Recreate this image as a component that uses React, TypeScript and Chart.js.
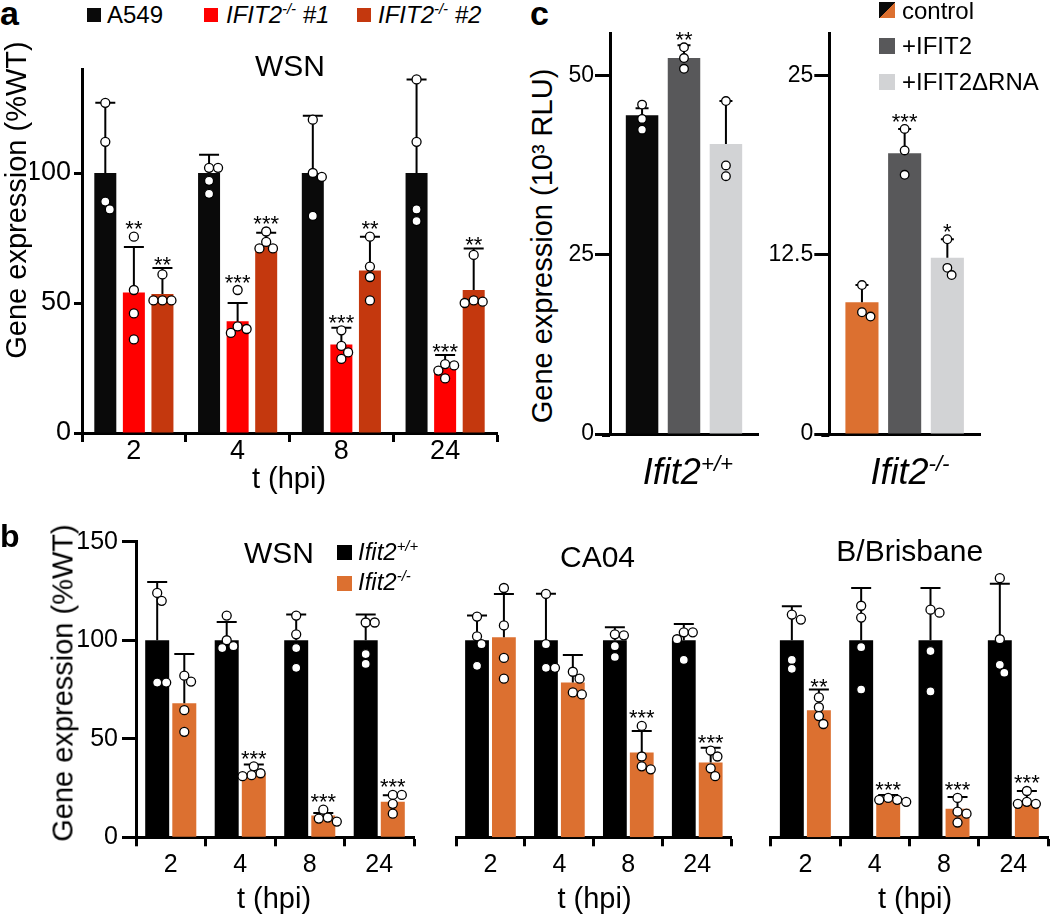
import React, { useEffect, useRef } from 'react';
import { Chart, registerables } from 'chart.js';
Chart.register(...registerables);

const FONT = '"Liberation Sans", Arial, Helvetica, sans-serif';

// ---------------- Panel a data ----------------
const A_CATS = ['2', '4', '8', '24'];
const A_SERIES = ['A549', 'IFIT2-/- #1', 'IFIT2-/- #2'];
const A_WT_MEAN = [100, 100, 100, 100];
const A_WT_SD = [27, 7, 22, 36];
const A_WT_PTS = [[127, 112, 86, 89], [102, 102, 97, 92], [120.5, 100, 98.5, 83.5], [136, 112, 86, 81.5]];
const A_KO1_MEAN = [54, 43, 34, 25];
const A_KO1_SD = [17.5, 7, 6.5, 5];
const A_KO1_PTS = [[75.5, 55, 46, 36], [55, 41, 38.5, 40], [39.5, 33.5, 31, 28.5], [26.5, 26, 24, 21]];
const A_KO1_STARS = ['**', '***', '***', '***'];
const A_KO2_MEAN = [53.5, 72, 62.5, 55];
const A_KO2_SD = [10, 5, 13, 16];
const A_KO2_PTS = [[61, 51, 51, 51], [77.5, 73.5, 71, 71], [75.5, 64, 60, 51], [68.5, 50.5, 51, 50]];
const A_KO2_STARS = ['**', '***', '**', '**'];
const A_Y_TICKS = [0, 50, 100];
const A_Y_MAX = 140;

// ---------------- Panel b data ----------------
const B_CATS = ['2', '4', '8', '24'];
const B_GENOTYPES = ['Ifit2+/+', 'Ifit2-/-'];
const B_Y_TICKS = [0, 50, 100, 150];
const B_Y_MAX = 150;
const B_WT_MEAN = [100, 100, 100, 100];

const B_WSN_WT_SD = [29.6, 9.2, 13, 13];
const B_WSN_WT_PTS = [[124, 120, 78.5, 78.5], [112.5, 100, 97, 96], [112.5, 103, 96, 86], [109, 109, 93, 88]];
const B_WSN_KO_MEAN = [68, 32.5, 11, 18];
const B_WSN_KO_SD = [25, 4.5, 1.3, 3.4];
const B_WSN_KO_PTS = [[82, 79, 64.5, 53.5], [36, 31, 32.5, 31.5], [14, 8, 10, 9.5], [21.5, 21.5, 17, 12]];
const B_WSN_KO_STARS = [null, '***', '***', '***'];

const B_CA04_WT_SD = [12.5, 23.6, 6.6, 8.3];
const B_CA04_WT_PTS = [[112, 102, 98, 87], [123.5, 98, 86, 86], [102.5, 103, 97, 91.5], [104, 104, 100.5, 90]];
const B_CA04_KO_MEAN = [101.5, 78.5, 43, 38];
const B_CA04_KO_SD = [22, 14, 11, 7.5];
const B_CA04_KO_PTS = [[126.5, 107.5, 91, 80.5], [84, 80.5, 72.5, 73.5], [56.5, 41, 36, 34.5], [44, 41, 35, 31]];
const B_CA04_KO_STARS = [null, null, '***', '***'];

const B_BRIS_WT_SD = [17.3, 26.5, 26.5, 28.7];
const B_BRIS_WT_PTS = [[110.5, 113, 90, 85.5], [117.5, 111.5, 96.5, 75], [114, 115.5, 94.5, 74], [131.5, 100.5, 83.5, 87.5]];
const B_BRIS_KO_MEAN = [64.5, 20, 14.5, 18];
const B_BRIS_KO_SD = [10.5, 1.5, 6, 5.5];
const B_BRIS_KO_PTS = [[71, 66, 61.5, 57.5], [20, 19, 19, 18], [20, 13, 12, 7.5], [23.5, 17, 18, 17]];
const B_BRIS_KO_STARS = ['**', '***', '***', '***'];

// ---------------- Panel c data ----------------
const C_GROUPS = ['Ifit2+/+', 'Ifit2-/-'];
const C_CONDITIONS = ['control', '+IFIT2', '+IFIT2\u0394RNA'];
const C_WT_MEAN = [44.5, 52.5, 40.5];
const C_WT_SD = [1, 1.8, 6];
const C_WT_PTS = [[46, 44, 42.5], [54, 52.5, 51], [46.5, 37.5, 36]];
const C_WT_STARS = [null, '**', null];
const C_WT_TICKS = [0, 25, 50];
const C_WT_MAX = 56;
const C_KO_MEAN = [9.2, 19.6, 12.3];
const C_KO_SD = [1.2, 1.7, 1.3];
const C_KO_PTS = [[10.4, 8.5, 8.2], [21.3, 19.8, 18.1], [13.6, 11.6, 11.1]];
const C_KO_STARS = [null, '***', '*'];
const C_KO_TICKS = [0, 12.5, 25];
const C_KO_MAX = 28;

// ---------------- colours ----------------
const BLACK = '#0a0a0a';
const RED = '#ff0000';
const DARK_ORANGE = '#c4380e';
const ORANGE = '#dc7030';
const DARK_GREY = '#58585a';
const LIGHT_GREY = '#d2d3d5';

type Series = { label: string; data: number[]; sd: number[]; pts: number[][]; stars: (string | null)[]; color: string };
type Spec = {
  labels: string[]; series: Series[]; yMax: number; yTicks: number[]; showY: boolean;
  yWidth: number; xHeight: number; padTop: number; padRight: number; padLeft: number;
  tickSize: number; xTickPad: number; showXTicks: boolean; catPct: number; barPct: number;
  r: number; capW: number; starSize: number; yTickLen: number; yTickPad: number; xExtend: number;
};

function makeOverlay(spec: Spec) {
  return {
    id: 'errAndPoints',
    afterDatasetsDraw(chart: any) {
      const ctx = chart.ctx as CanvasRenderingContext2D;
      const ys = chart.scales.y;
      ctx.save();
      spec.series.forEach((s, di) => {
        const meta = chart.getDatasetMeta(di);
        meta.data.forEach((el: any, j: number) => {
          const x = el.x;
          const yBar = ys.getPixelForValue(s.data[j]);
          const yErr = ys.getPixelForValue(s.data[j] + s.sd[j]);
          ctx.strokeStyle = '#000';
          ctx.lineWidth = 2;
          ctx.beginPath();
          ctx.moveTo(x, yBar);
          ctx.lineTo(x, yErr);
          ctx.moveTo(x - spec.capW / 2, yErr);
          ctx.lineTo(x + spec.capW / 2, yErr);
          ctx.stroke();
          const r = spec.r;
          const pys = s.pts[j].map((v) => ys.getPixelForValue(v)).sort((a: number, b: number) => a - b);
          const placed: { x: number; y: number }[] = [];
          pys.forEach((py: number) => {
            let off = 0;
            for (let k = 0; k < 80; k++) {
              const cand = k === 0 ? 0 : (k % 2 ? 1 : -1) * Math.ceil(k / 2) * r * 0.5;
              if (placed.every((p) => (p.x - cand) ** 2 + (p.y - py) ** 2 >= (1.9 * r) ** 2)) {
                off = cand;
                break;
              }
            }
            placed.push({ x: off, y: py });
          });
          ctx.lineWidth = 1.3;
          placed.forEach((p) => {
            ctx.beginPath();
            ctx.arc(x + p.x, p.y, r, 0, Math.PI * 2);
            ctx.fillStyle = '#fff';
            ctx.fill();
            ctx.stroke();
          });
          const star = s.stars[j];
          if (star) {
            const top = Math.min(yErr, ...placed.map((p) => p.y - r));
            ctx.fillStyle = '#000';
            ctx.font = `${spec.starSize}px ${FONT}`;
            ctx.textAlign = 'center';
            ctx.textBaseline = 'alphabetic';
            ctx.fillText(star, x, top + 4);
          }
        });
      });
      if (spec.xExtend > 0) {
        const area = chart.chartArea;
        ctx.strokeStyle = '#000';
        ctx.lineWidth = 3;
        ctx.beginPath();
        ctx.moveTo(area.left - spec.xExtend, area.bottom + 1.5);
        ctx.lineTo(area.left, area.bottom + 1.5);
        ctx.stroke();
      }
      ctx.restore();
    },
  };
}

function makeConfig(spec: Spec): any {
  return {
    type: 'bar',
    data: {
      labels: spec.labels,
      datasets: spec.series.map((s) => ({
        label: s.label,
        data: s.data,
        backgroundColor: s.color,
        borderWidth: 0,
        categoryPercentage: spec.catPct,
        barPercentage: spec.barPct,
      })),
    },
    options: {
      responsive: false,
      animation: false,
      devicePixelRatio: 1,
      layout: { padding: { top: spec.padTop, right: spec.padRight, left: spec.padLeft, bottom: 0 } },
      plugins: { legend: { display: false }, tooltip: { enabled: false }, title: { display: false } },
      scales: {
        x: {
          type: 'category',
          offset: true,
          grid: {
            display: true, drawOnChartArea: false, drawTicks: spec.showXTicks, tickLength: 9,
            tickWidth: 3, tickColor: '#000', color: '#000', offset: true,
          },
          border: { display: true, color: '#000', width: 3 },
          ticks: {
            display: spec.showXTicks, color: '#000', font: { family: FONT, size: spec.tickSize, lineHeight: 1 },
            padding: spec.xTickPad, maxRotation: 0, autoSkip: false,
          },
          afterFit: (s: any) => { s.height = spec.xHeight; },
        },
        y: {
          display: spec.showY,
          min: 0,
          max: spec.yMax,
          afterBuildTicks: (s: any) => { s.ticks = spec.yTicks.map((v) => ({ value: v })); },
          grid: {
            drawOnChartArea: false, drawTicks: true, tickLength: spec.yTickLen, tickWidth: 3,
            tickColor: '#000', color: '#000',
          },
          border: { display: true, color: '#000', width: 3 },
          ticks: { color: '#000', font: { family: FONT, size: spec.tickSize, lineHeight: 1 }, padding: spec.yTickPad },
          afterFit: (s: any) => { s.width = spec.yWidth; },
        },
      },
    },
    plugins: [makeOverlay(spec)],
  };
}

function ChartBox({ left, top, width, height, spec }: { left: number; top: number; width: number; height: number; spec: Spec }) {
  const ref = useRef<HTMLCanvasElement>(null);
  useEffect(() => {
    const chart = new Chart(ref.current as HTMLCanvasElement, makeConfig(spec));
    return () => chart.destroy();
  }, []);
  return (
    <canvas ref={ref} width={width} height={height}
      style={{ position: 'absolute', left, top, width, height }} />
  );
}

function T({ x, y, size, children, anchor = 'middle', italic = false, bold = false, rotate = false }:
  { x: number; y: number; size: number; children: any; anchor?: string; italic?: boolean; bold?: boolean; rotate?: boolean }) {
  const tx = anchor === 'start' ? '0' : '-50%';
  return (
    <div style={{
      position: 'absolute', left: x, top: y, whiteSpace: 'nowrap', lineHeight: 1,
      fontFamily: FONT, fontSize: size, fontStyle: italic ? 'italic' : 'normal', fontWeight: bold ? 700 : 400,
      color: '#000', transform: `translate(${tx},-50%)${rotate ? ' rotate(-90deg)' : ''}`,
    }}>{children}</div>
  );
}

function Sup({ children }: { children: any }) {
  return <span style={{ fontSize: '0.62em', position: 'relative', top: '-0.6em' }}>{children}</span>;
}

function Gene({ name }: { name: string }) {
  // splits "Ifit2+/+" into base and superscript genotype
  const m = name.match(/^([A-Za-z]+\d)([+\-/]+)(.*)$/);
  if (!m) return <>{name}</>;
  return <>{m[1]}<Sup>{m[2]}</Sup>{m[3]}</>;
}

function Swatch({ x, y, s, bg }: { x: number; y: number; s: number; bg: string }) {
  return <div style={{ position: 'absolute', left: x, top: y, width: s, height: s, background: bg }} />;
}

const common = { r: 4.5, capW: 20, starSize: 22, xExtend: 0 };

const specA: Spec = {
  labels: A_CATS,
  series: [
    { label: A_SERIES[0], data: A_WT_MEAN, sd: A_WT_SD, pts: A_WT_PTS, stars: [null, null, null, null], color: BLACK },
    { label: A_SERIES[1], data: A_KO1_MEAN, sd: A_KO1_SD, pts: A_KO1_PTS, stars: A_KO1_STARS, color: RED },
    { label: A_SERIES[2], data: A_KO2_MEAN, sd: A_KO2_SD, pts: A_KO2_PTS, stars: A_KO2_STARS, color: DARK_ORANGE },
  ],
  yMax: A_Y_MAX, yTicks: A_Y_TICKS, showY: true, yWidth: 52, xHeight: 47, padTop: 29, padRight: 13, padLeft: 0,
  tickSize: 27, xTickPad: -4, showXTicks: true, catPct: 0.826, barPct: 0.77, yTickLen: 8, yTickPad: 3, ...common,
};

function bSpec(wtSd: number[], wtPts: number[][], koMean: number[], koSd: number[], koPts: number[][], koStars: (string | null)[], showY: boolean, padLeft: number, padRight: number, yWidth: number): Spec {
  return {
    labels: B_CATS,
    series: [
      { label: B_GENOTYPES[0], data: B_WT_MEAN, sd: wtSd, pts: wtPts, stars: [null, null, null, null], color: '#000' },
      { label: B_GENOTYPES[1], data: koMean, sd: koSd, pts: koPts, stars: koStars, color: ORANGE },
    ],
    yMax: B_Y_MAX, yTicks: B_Y_TICKS, showY, yWidth, xHeight: 62.7, padTop: 21.7, padRight, padLeft,
    tickSize: 25, xTickPad: 6, showXTicks: true, catPct: 0.78, barPct: 0.885, yTickLen: 14, yTickPad: 4, ...common,
  };
}

const specB1 = bSpec(B_WSN_WT_SD, B_WSN_WT_PTS, B_WSN_KO_MEAN, B_WSN_KO_SD, B_WSN_KO_PTS, B_WSN_KO_STARS, true, 0, 16, 66);
const specB2 = bSpec(B_CA04_WT_SD, B_CA04_WT_PTS, B_CA04_KO_MEAN, B_CA04_KO_SD, B_CA04_KO_PTS, B_CA04_KO_STARS, false, 16, 18.3, 0);
const specB3 = bSpec(B_BRIS_WT_SD, B_BRIS_WT_PTS, B_BRIS_KO_MEAN, B_BRIS_KO_SD, B_BRIS_KO_PTS, B_BRIS_KO_STARS, false, 15.7, 2, 0);

function cSpec(group: string, means: number[], sds: number[], pts: number[][], stars: (string | null)[], colors: string[], yMax: number, yTicks: number[], yWidth: number, padRight: number): Spec {
  return {
    labels: [group],
    series: C_CONDITIONS.map((c, i) => ({ label: c, data: [means[i]], sd: [sds[i]], pts: [pts[i]], stars: [stars[i]], color: colors[i] })),
    yMax, yTicks, showY: true, yWidth, xHeight: 26, padTop: 18, padRight, padLeft: 0,
    tickSize: 23, xTickPad: 0, showXTicks: false, catPct: 0.85, barPct: 0.775, yTickLen: 15, yTickPad: 1,
    r: 4.3, capW: 13, starSize: 22, xExtend: 8,
  };
}

const specC1 = cSpec(C_GROUPS[0], C_WT_MEAN, C_WT_SD, C_WT_PTS, C_WT_STARS, [BLACK, DARK_GREY, LIGHT_GREY], C_WT_MAX, C_WT_TICKS, 50, 12);
const specC2 = cSpec(C_GROUPS[1], C_KO_MEAN, C_KO_SD, C_KO_PTS, C_KO_STARS, [ORANGE, DARK_GREY, LIGHT_GREY], C_KO_MAX, C_KO_TICKS, 79.3, 10);

export default function App() {
  return (
    <div style={{ position: 'absolute', left: 0, top: 0, width: 1050, height: 917, background: '#fff', overflow: 'hidden' }}>
      {/* Panel a */}
      <ChartBox left={30} top={40} width={480} height={440} spec={specA} />
      <T x={0} y={12.8} size={34} bold anchor="start">a</T>
      <Swatch x={87} y={8} s={14} bg={BLACK} />
      <T x={107} y={15} size={24} anchor="start">{A_SERIES[0]}</T>
      <Swatch x={204} y={8} s={14} bg={RED} />
      <T x={226} y={15} size={24} anchor="start" italic>IFIT2<Sup>-/-</Sup> #1</T>
      <Swatch x={357} y={8} s={14} bg={DARK_ORANGE} />
      <T x={378} y={15} size={24} anchor="start" italic>IFIT2<Sup>-/-</Sup> #2</T>
      <T x={290} y={65.5} size={30}>WSN</T>
      <T x={16} y={200} size={29} rotate>Gene expression (%WT)</T>
      <T x={289} y={478} size={29}>t (hpi)</T>

      {/* Panel c */}
      <ChartBox left={560} top={15} width={210} height={445} spec={specC1} />
      <ChartBox left={750} top={15} width={240} height={445} spec={specC2} />
      <T x={530} y={12.8} size={34} bold anchor="start">c</T>
      <T x={542} y={246} size={29} rotate>Gene expression (10³ RLU)</T>
      <div style={{ position: 'absolute', left: 879, top: 2, width: 16, height: 16, background: `linear-gradient(to bottom right, ${BLACK} 50%, ${ORANGE} 50%)` }} />
      <T x={902} y={10.5} size={24} anchor="start">{C_CONDITIONS[0]}</T>
      <Swatch x={879} y={38} s={16} bg={DARK_GREY} />
      <T x={902} y={46} size={24} anchor="start">{C_CONDITIONS[1]}</T>
      <Swatch x={879} y={74} s={16} bg={LIGHT_GREY} />
      <T x={902} y={82} size={24} anchor="start">{C_CONDITIONS[2]}</T>
      <T x={688} y={472} size={36} italic><Gene name={C_GROUPS[0]} /></T>
      <T x={910} y={472} size={36} italic><Gene name={C_GROUPS[1]} /></T>

      {/* Panel b */}
      <ChartBox left={70} top={520} width={360} height={380} spec={specB1} />
      <ChartBox left={440} top={520} width={310} height={380} spec={specB2} />
      <ChartBox left={755} top={520} width={295} height={380} spec={specB3} />
      <T x={0} y={536} size={32} bold anchor="start">b</T>
      <T x={62.5} y={682.5} size={29} rotate>Gene expression (%WT)</T>
      <T x={279} y={553} size={30}>WSN</T>
      <T x={597.5} y={556.7} size={30}>CA04</T>
      <T x={909.7} y={551} size={30}>B/Brisbane</T>
      <Swatch x={337} y={545} s={15} bg="#000" />
      <T x={358} y={552} size={24} anchor="start" italic><Gene name={B_GENOTYPES[0]} /></T>
      <Swatch x={337} y={576} s={15} bg={ORANGE} />
      <T x={358} y={582} size={24} anchor="start" italic><Gene name={B_GENOTYPES[1]} /></T>
      <T x={274} y={898} size={29}>t (hpi)</T>
      <T x={594.5} y={898} size={29}>t (hpi)</T>
      <T x={915} y={898} size={29}>t (hpi)</T>
    </div>
  );
}
